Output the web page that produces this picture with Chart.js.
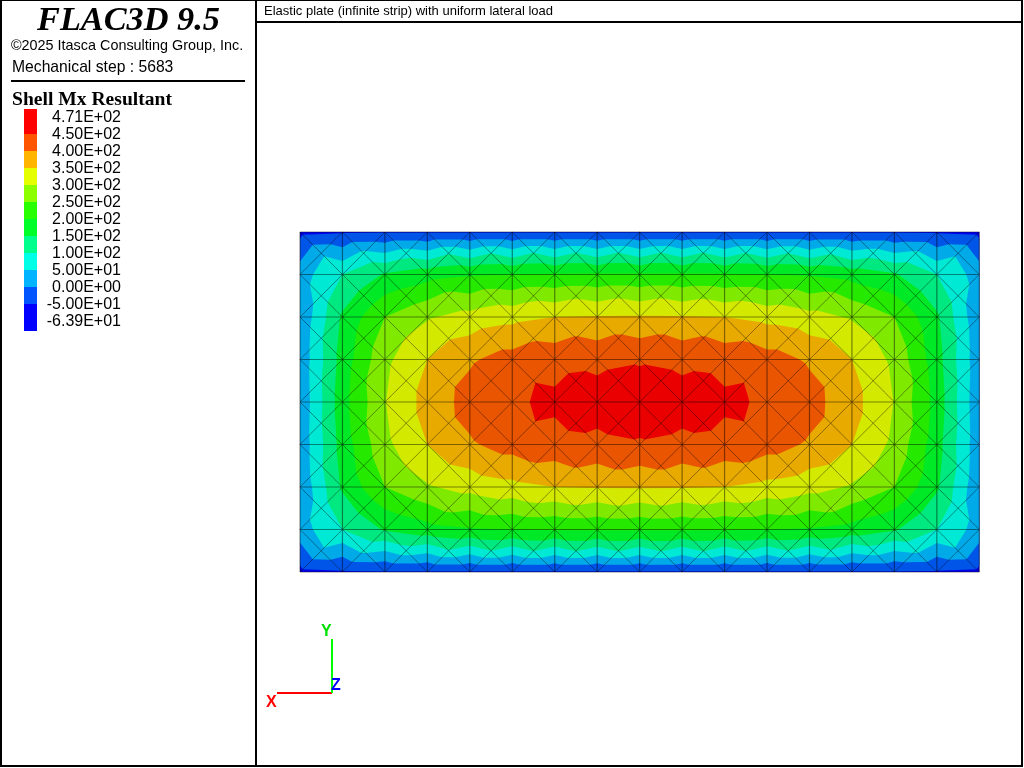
<!DOCTYPE html>
<html><head><meta charset="utf-8">
<script src="https://cdn.jsdelivr.net/npm/chart.js@4"></script>
<style>
html,body{margin:0;padding:0;background:#fff;width:1024px;height:768px;overflow:hidden}
#stage{position:relative;width:1024px;height:768px;background:#fff}
canvas{position:absolute;left:0;top:0}
.b{position:absolute;background:#000}
.t{position:absolute;white-space:nowrap;color:#000;font-family:"Liberation Sans",Arial,sans-serif;line-height:1}
.s{font-family:"Liberation Serif","Times New Roman",serif;font-weight:bold}
.sw{position:absolute;left:24px;width:13px}
.lab{position:absolute;right:calc(1024px - 121px);font:16px "Liberation Sans",Arial,sans-serif;line-height:17px;white-space:nowrap;color:#000}
</style></head><body>
<div id="stage">
<canvas id="c" width="1024" height="768"></canvas>
<div class="b" style="left:0;top:0;width:1023px;height:1px"></div>
<div class="b" style="left:0;top:765px;width:1023px;height:2px"></div>
<div class="b" style="left:0;top:0;width:2px;height:767px"></div>
<div class="b" style="left:1021px;top:0;width:2px;height:767px"></div>
<div class="b" style="left:255px;top:0;width:2px;height:767px"></div>
<div class="b" style="left:257px;top:21px;width:765px;height:2px"></div>
<div class="b" style="left:11px;top:80px;width:234px;height:2px"></div>
<div class="t s" style="left:37px;top:1px;font-size:34.3px;font-style:italic">FLAC3D 9.5</div>
<div class="t" style="left:11px;top:38px;font-size:14.4px">©2025 Itasca Consulting Group, Inc.</div>
<div class="t" style="left:12px;top:59px;font-size:15.7px">Mechanical step : 5683</div>
<div class="t s" style="left:12px;top:89px;font-size:19.6px">Shell Mx Resultant</div>
<div class="t" style="left:264px;top:4px;font-size:13px">Elastic plate (infinite strip) with uniform lateral load</div>
<div id="legend"></div>
<div class="b" style="left:277px;top:692px;width:55px;height:2px;background:#ff0000"></div>
<div class="b" style="left:331px;top:639px;width:2px;height:54px;background:#00ff00"></div>
<div class="t" style="left:266px;top:694px;font-size:16px;font-weight:bold;color:#ff0000">X</div>
<div class="t" style="left:321px;top:623px;font-size:16px;font-weight:bold;color:#00e000">Y</div>
<div class="t" style="left:331px;top:677px;font-size:16px;font-weight:bold;color:#0000ff">Z</div>
</div>
<script>
// Legend
const legendLabels = ["4.71E+02","4.50E+02","4.00E+02","3.50E+02","3.00E+02","2.50E+02","2.00E+02","1.50E+02","1.00E+02","5.00E+01","0.00E+00","-5.00E+01","-6.39E+01"];
const legendColors = ["#ff0000","#ff5500","#ffb400","#e6ff00","#8cff00","#28ff00","#00ff28","#00ff8c","#00ffe6","#00b4ff","#0055ff","#0000ff"];
// Contour levels, low to high, and their fill colours
const levels = [-63.9,-50,0,50,100,150,200,250,300,350,400,450];
const bandColors = ["#0000e9","#0055e9","#00aae9","#00e9d4","#00e980","#00e926","#26e900","#80e900","#d4e900","#e9aa00","#e95500","#ea0000"];
// Moment read at the mesh corner nodes (9 rows of 17)
const nodeRow0 = [-63.9,-56,-53,-53,-53,-53,-53,-53,-53,-53,-53,-53,-53,-53,-53,-56,-63.9];
const nodeRow1 = [28,100,155,180,195,200,203,205,205,205,203,200,195,180,155,100,28];
const nodeRow2 = [8,158,250,295,317,335,350,353,354,353,350,335,317,295,250,158,8];
const nodeRow3 = [14,171,288,350,394,420,432,438,446,438,432,420,394,350,288,171,14];
const nodeRow4 = [10,180,298,368,419,443,460,470,471,470,460,443,419,368,298,180,10];
const nodeRow5 = [14,171,288,350,394,420,432,438,446,438,432,420,394,350,288,171,14];
const nodeRow6 = [8,158,250,295,317,335,350,353,354,353,350,335,317,295,250,158,8];
const nodeRow7 = [28,100,155,180,195,200,203,205,205,205,203,200,195,180,155,100,28];
const nodeRow8 = [-63.9,-56,-53,-53,-53,-53,-53,-53,-53,-53,-53,-53,-53,-53,-53,-56,-63.9];
// Moment read at the cell centre nodes (8 rows of 16)
const centerRow0 = [42,62,78,95,100,102,103,103,103,103,102,100,95,78,62,42];
const centerRow1 = [75,165,220,264,275,285,290,292,292,290,285,275,264,220,165,75];
const centerRow2 = [95,222,302,347,378,395,405,410,410,405,395,378,347,302,222,95];
const centerRow3 = [98,243,333,392,425,449,460,463,463,460,449,425,392,333,243,98];
const centerRow4 = [98,243,333,392,425,449,460,463,463,460,449,425,392,333,243,98];
const centerRow5 = [95,222,302,347,378,395,405,410,410,405,395,378,347,302,222,95];
const centerRow6 = [75,165,220,264,275,285,290,292,292,290,285,275,264,220,165,75];
const centerRow7 = [42,62,78,95,100,102,103,103,103,103,102,100,95,78,62,42];

const nodes = [nodeRow0,nodeRow1,nodeRow2,nodeRow3,nodeRow4,nodeRow5,nodeRow6,nodeRow7,nodeRow8];
const centers = [centerRow0,centerRow1,centerRow2,centerRow3,centerRow4,centerRow5,centerRow6,centerRow7];
const nCols = nodeRow0.length-1, nRows = nodes.length-1;

// HTML legend
(function(){
  const host=document.getElementById('legend');
  const tops=[109,134,151,168,185,202,219,236,253,270,287,304,331];
  legendColors.forEach((c,i)=>{
    const d=document.createElement('div');d.className='sw';
    d.style.top=tops[i]+'px';d.style.height=(tops[i+1]-tops[i])+'px';d.style.background=c;host.appendChild(d);
  });
  legendLabels.forEach((t,i)=>{
    const d=document.createElement('div');d.className='lab';
    d.style.top=(108+17*i)+'px';d.textContent=t;host.appendChild(d);
  });
})();

// Triangles of the mesh: each cell splits into four around its centre
function triangles(){
  const out=[];
  for(let j=0;j<nRows;j++)for(let i=0;i<nCols;i++){
    const a={x:i,y:j,v:nodes[j][i]},b={x:i+1,y:j,v:nodes[j][i+1]},
          c={x:i+1,y:j+1,v:nodes[j+1][i+1]},d={x:i,y:j+1,v:nodes[j+1][i]},
          m={x:i+.5,y:j+.5,v:centers[j][i]};
    out.push([a,b,m],[b,c,m],[c,d,m],[d,a,m]);
  }
  return out;
}
function clipAbove(tri,L){
  const r=[];
  for(let k=0;k<tri.length;k++){
    const p=tri[k],q=tri[(k+1)%tri.length];
    if(p.v>=L)r.push(p);
    if((p.v>=L)!==(q.v>=L)){
      const t=(L-p.v)/(q.v-p.v);
      r.push({x:p.x+t*(q.x-p.x),y:p.y+t*(q.y-p.y),v:L});
    }
  }
  return r;
}
const contourPlugin={
  id:'contour',
  beforeDatasetsDraw(chart){
    const g=chart.ctx,X=chart.scales.x,Y=chart.scales.y,tris=triangles();
    levels.forEach((L,n)=>{
      g.beginPath();
      tris.forEach(t=>{
        const poly=clipAbove(t,n===0?-Infinity:L);
        if(poly.length<3)return;
        poly.forEach((p,k)=>{
          const px=X.getPixelForValue(p.x),py=Y.getPixelForValue(p.y);
          k?g.lineTo(px,py):g.moveTo(px,py);
        });
        g.closePath();
      });
      g.fillStyle=bandColors[n];
      g.fill();
    });
  }
};
// Mesh lines from grid indices
const gridLines=[],diagLines=[];
for(let j=0;j<=nRows;j++){gridLines.push({x:0,y:j},{x:nCols,y:j},{x:NaN,y:NaN});}
for(let i=0;i<=nCols;i++){gridLines.push({x:i,y:0},{x:i,y:nRows},{x:NaN,y:NaN});}
for(let j=0;j<nRows;j++)for(let i=0;i<nCols;i++){
  diagLines.push({x:i,y:j},{x:i+1,y:j+1},{x:NaN,y:NaN},{x:i+1,y:j},{x:i,y:j+1},{x:NaN,y:NaN});
}
new Chart(document.getElementById('c'),{
  type:'scatter',
  data:{datasets:[
    {data:gridLines,showLine:true,spanGaps:false,pointRadius:0,borderWidth:1.2,tension:0.0001,borderColor:'rgba(0,0,0,0.45)',clip:false},
    {data:diagLines,showLine:true,spanGaps:false,pointRadius:0,borderWidth:1,tension:0.0001,borderColor:'rgba(0,0,0,0.4)',clip:false}
  ]},
  options:{
    responsive:false,animation:false,
    layout:{padding:{left:300,right:44.7,top:232,bottom:196}},
    plugins:{legend:{display:false},tooltip:{enabled:false},title:{display:false}},
    scales:{
      x:{type:'linear',display:false,min:0,max:nCols},
      y:{type:'linear',display:false,min:0,max:nRows,reverse:true}
    }
  },
  plugins:[contourPlugin]
});
</script>
</body></html>
